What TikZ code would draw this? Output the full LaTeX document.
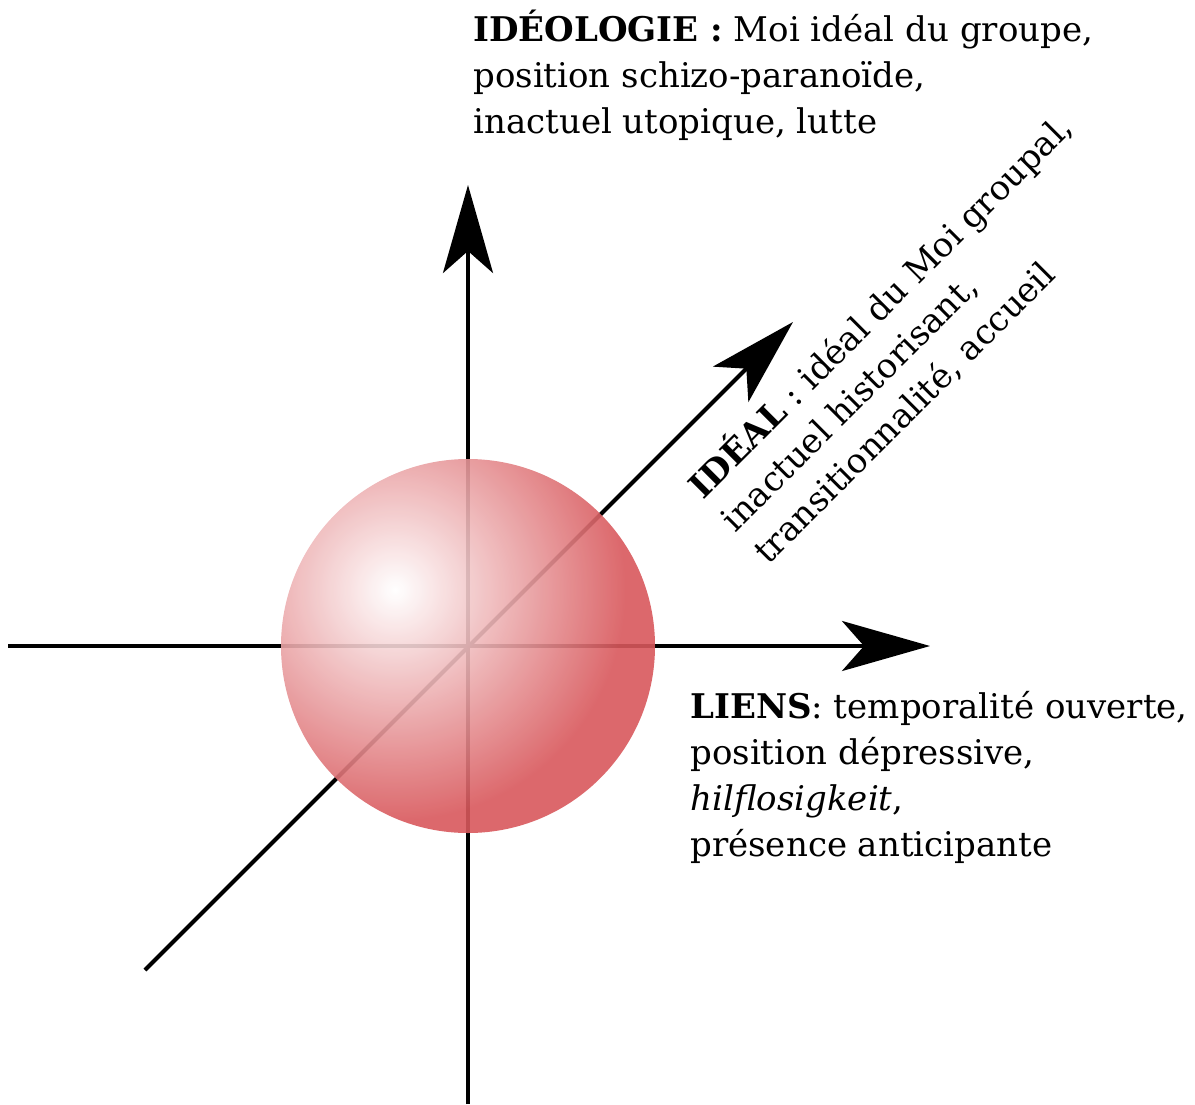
\documentclass[tikz,border=0pt]{standalone}
\usepackage{fontspec}
\setmainfont{DejaVu Serif}
\usepackage{tikz}
\usetikzlibrary{arrows.meta}

\definecolor{sphereRed}{RGB}{216,88,92}
\pgfdeclareradialshading{spherelight}{\pgfpointorigin}{%
  color(0bp)=(white); color(12bp)=(sphereRed); color(50bp)=(sphereRed)}

\begin{document}
\begin{tikzpicture}[x=0.5pt, y=-0.5pt,
    axis/.style={line width=2pt},
    tip/.style={-{Stealth[length=44pt,width=25pt,inset=11pt]}},
    txtblock/.style={align=left, inner sep=0pt, font=\fontsize{17}{23}\selectfont}]
      \useasboundingbox (0,0) rectangle (1195,1104);

      \coordinate (O) at (468,646);
      \coordinate (H) at (395,590);
      \coordinate (N) at (468,185);
      \coordinate (S) at (468,1104);
      \coordinate (W) at (8,646);
      \coordinate (E) at (930,646);
      \coordinate (SW) at (145,970);
      \coordinate (NE) at (793,322);

      % axes
      \draw[axis, tip] (S) -- (N);
      \draw[axis, tip] (W) -- (E);
      \draw[axis, tip] (SW) -- (NE);

      % sphere, lit from the upper left
      \begin{scope}
        \clip (O) circle (93.5pt);
        \shade[shading=spherelight, opacity=0.9] (H) circle (240pt);
      \end{scope}

      % labels
      \node[txtblock, anchor=base west] (ideologie) at (473,133)
        {\textbf{IDÉOLOGIE :} Moi idéal du groupe,\\position schizo-paranoïde,\\inactuel utopique, lutte};
      \node[txtblock, anchor=base west] (liens) at (690,856)
        {\textbf{LIENS}: temporalité ouverte,\\position dépressive,\\\emph{hilflosigkeit},\\présence anticipante};
      \node[txtblock, anchor=base west, rotate=45] (ideal) at (768,566)
        {\textbf{IDÉAL} : idéal du Moi groupal,\\inactuel historisant,\\transitionnalité, accueil};
    \end{tikzpicture}
\end{document}
